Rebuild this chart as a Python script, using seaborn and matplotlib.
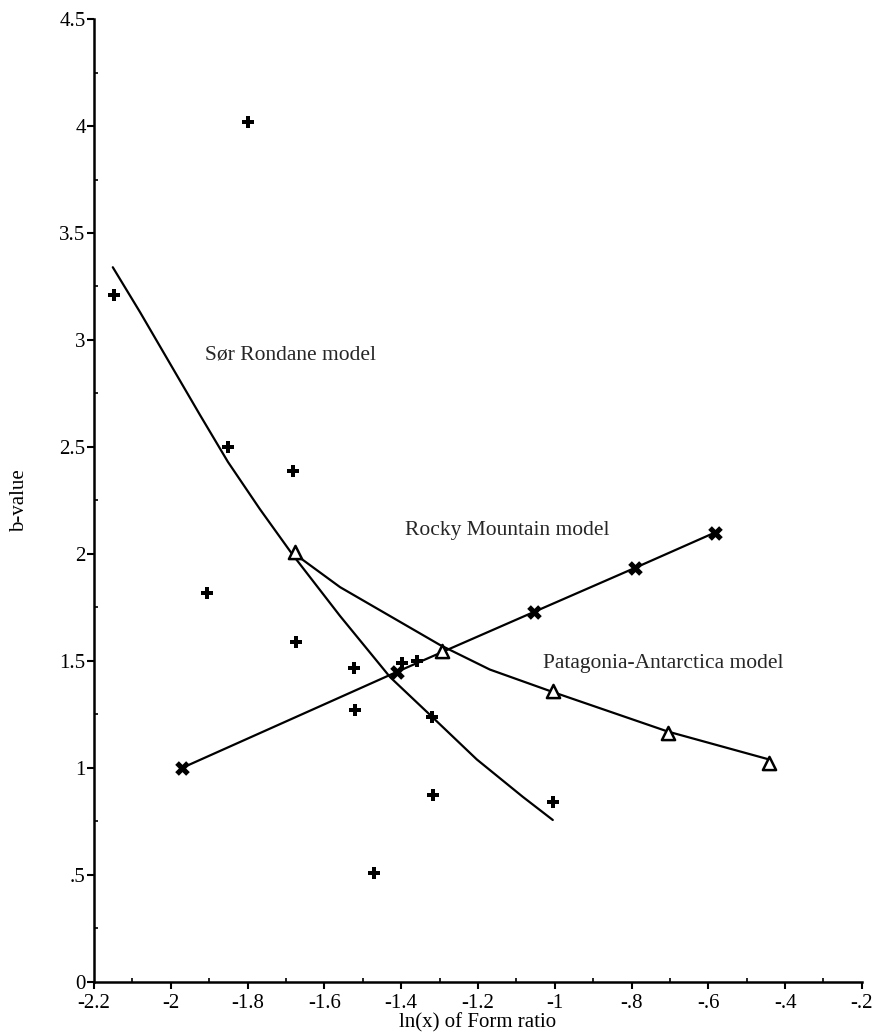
import matplotlib
matplotlib.use("Agg")
import matplotlib.pyplot as plt
import seaborn as sns
from matplotlib.ticker import FixedLocator, MultipleLocator

sns.set_theme(style="ticks")
plt.rcParams['font.family'] = ['Liberation Serif', 'DejaVu Serif']

# Sør Rondane observed data (+)
sor_x = [-2.148, -1.80, -1.851, -1.682, -1.906, -1.674, -1.523, -1.520,
         -1.320, -1.317, -1.471, -1.005, -1.398, -1.359]
sor_y = [3.21, 4.02, 2.50, 2.39, 1.82, 1.59, 1.467, 1.27,
         1.24, 0.875, 0.51, 0.84, 1.49, 1.50]

# Sør Rondane model curve
sor_model_x = [-2.151, -2.080, -2.002, -1.924, -1.851, -1.768, -1.684,
               -1.559, -1.429, -1.320, -1.203, -1.083, -1.005]
sor_model_y = [3.34, 3.13, 2.89, 2.65, 2.43, 2.21, 2.00,
               1.71, 1.425, 1.24, 1.04, 0.865, 0.757]

# Rocky Mountain model (x markers)
rocky_x = [-1.971, -1.410, -1.053, -0.791, -0.583]
rocky_y = [1.00, 1.45, 1.73, 1.935, 2.10]

# Patagonia-Antarctica model (triangles)
pat_x = [-1.677, -1.294, -1.005, -0.705, -0.442]
pat_y = [2.01, 1.545, 1.36, 1.165, 1.025]
# Patagonia curve
pat_line_x = [-1.677, -1.559, -1.429, -1.299, -1.169, -1.005, -0.705, -0.442]
pat_line_y = [2.00, 1.845, 1.71, 1.575, 1.46, 1.355, 1.17, 1.04]

x_ticks = [-2.2, -2.0, -1.8, -1.6, -1.4, -1.2, -1.0, -0.8, -0.6, -0.4, -0.2]
x_labels = ["-2.2", "-2", "-1.8", "-1.6", "-1.4", "-1.2", "-1", "-.8", "-.6", "-.4", "-.2"]
y_ticks = [0, 0.5, 1, 1.5, 2, 2.5, 3, 3.5, 4, 4.5]
y_labels = ["0", ".5", "1", "1.5", "2", "2.5", "3", "3.5", "4", "4.5"]

fig = plt.figure(figsize=(8.75, 10.33), dpi=100)
ax = fig.add_axes([0.1074, 0.0494, 0.8776, 0.9322])

lw = 1.6
sns.lineplot(x=sor_model_x, y=sor_model_y, sort=False, color="black", lw=lw, ax=ax)
sns.lineplot(x=pat_line_x, y=pat_line_y, sort=False, color="black", lw=lw, ax=ax)
sns.lineplot(x=rocky_x, y=rocky_y, sort=False, color="black", lw=lw, ax=ax)

sns.scatterplot(x=sor_x, y=sor_y, marker="P", s=75, color="black",
                edgecolor="black", linewidth=0, ax=ax, zorder=5)
sns.scatterplot(x=rocky_x, y=rocky_y, marker="X", s=110, color="black",
                edgecolor="black", linewidth=0, ax=ax, zorder=5)
sns.scatterplot(x=pat_x, y=pat_y, marker="^", s=90, facecolor="white",
                edgecolor="black", linewidth=1.8, ax=ax, zorder=5)

fs = 15.5
ax.text(-1.911, 2.93, "Sør Rondane model", fontsize=fs, va="center", ha="left")
ax.text(-1.390, 2.11, "Rocky Mountain model", fontsize=fs, va="center", ha="left")
ax.text(-1.031, 1.49, "Patagonia-Antarctica model", fontsize=fs, va="center", ha="left")

ax.set_xlim(-2.2, -0.2)
ax.set_ylim(0, 4.5)
ax.xaxis.set_major_locator(FixedLocator(x_ticks))
ax.set_xticklabels(x_labels)
ax.yaxis.set_major_locator(FixedLocator(y_ticks))
ax.set_yticklabels(y_labels)
ax.xaxis.set_minor_locator(MultipleLocator(0.1))
ax.yaxis.set_minor_locator(MultipleLocator(0.25))

ax.tick_params(axis="both", which="major", direction="out", length=5, width=1.5,
               labelsize=15, color="black", labelcolor="black")
ax.tick_params(axis="x", which="major", pad=4)
ax.tick_params(axis="y", which="major", pad=1)
ax.tick_params(axis="both", which="minor", direction="in", length=3, width=1.2,
               color="black")

sns.despine(ax=ax)
for s in ["left", "bottom"]:
    ax.spines[s].set_linewidth(1.8)
    ax.spines[s].set_color("black")

ax.set_xlabel("ln(x) of Form ratio", fontsize=15, labelpad=0, color="black")
ax.set_ylabel("b-value", fontsize=15, labelpad=22, color="black")
ax.set_facecolor("white")
fig.patch.set_facecolor("white")

fig.savefig("out.png", dpi=100)
